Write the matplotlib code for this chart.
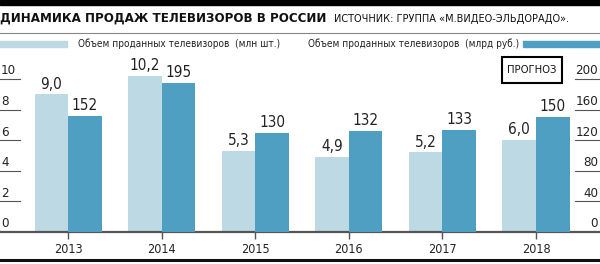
import matplotlib
matplotlib.use('Agg')
import matplotlib.pyplot as plt
import matplotlib.transforms as mtransforms
from matplotlib.patches import Rectangle
import numpy as np

# data
years = ['2013', '2014', '2015', '2016', '2017', '2018']
units_mln = [9.0, 10.2, 5.3, 4.9, 5.2, 6.0]
value_bln_rub = [152, 195, 130, 132, 133, 150]
left_ticks = [0, 2, 4, 6, 8, 10]
right_ticks = [0, 40, 80, 120, 160, 200]

title = 'ДИНАМИКА ПРОДАЖ ТЕЛЕВИЗОРОВ В РОССИИ'
source = 'ИСТОЧНИК: ГРУППА «М.ВИДЕО-ЭЛЬДОРАДО».'
label_units = 'Объем проданных телевизоров  (млн шт.)'
label_value = 'Объем проданных телевизоров  (млрд руб.)'

LIGHT = '#bcd9e4'
DARK = '#4f9fc3'
TXT = '#222222'
plt.rcParams['font.family'] = ['DejaVu Sans']
plt.rcParams['font.stretch'] = 'condensed'

W, H = 600, 264
fig = plt.figure(figsize=(6, 2.64), dpi=100)

def fy(px):
    # pixel row from top -> figure fraction
    return 1 - px / H

# axes: baseline at y=232px, 10 units at y=79px
unit_px = (232 - 79) / 10
ymax = 11
ax = fig.add_axes([0, fy(232), 1, (ymax * unit_px) / H])
ax2 = ax.twinx()

pos = np.arange(len(years))
step_px = 93.6
ax.set_xlim(-68 / step_px, (W - 68) / step_px)
ax.set_ylim(0, ymax)
ax2.set_ylim(0, ymax * 20)
bw = 33.5 / step_px

ax.bar(pos - bw / 2, units_mln, width=bw, color=LIGHT, zorder=2)
ax2.bar(pos + bw / 2, value_bln_rub, width=bw, color=DARK, zorder=2)

# value labels
for p, v in zip(pos, units_mln):
    ax.annotate(f'{v:.1f}'.replace('.', ','), (p - bw / 2, v), xytext=(0, 2),
                textcoords='offset points', ha='center', va='bottom',
                fontsize=11, color=TXT)
for p, v in zip(pos, value_bln_rub):
    ax2.annotate(str(v), (p + bw / 2, v), xytext=(0, 2),
                 textcoords='offset points', ha='center', va='bottom',
                 fontsize=11, color=TXT)

for a in (ax, ax2):
    for s in a.spines.values():
        s.set_visible(False)
    a.set_yticks([])
    a.patch.set_visible(False)

ax.spines['bottom'].set_visible(True)
ax.spines['bottom'].set_color('#555555')
ax.spines['bottom'].set_linewidth(1.6)
ax.set_xticks(pos)
ax.set_xticklabels(years, fontsize=9, color=TXT)
ax.tick_params(axis='x', length=5, width=1, color='#555555', pad=3)

# tick labels on both sides, underlined
tl = mtransforms.blended_transform_factory(fig.transFigure, ax.transData)
for v in left_ticks:
    ax.text(1 / W, v + 0.1, str(v), transform=tl, ha='left', va='bottom',
            fontsize=9.5, color=TXT)
    if v > 0:
        ax.plot([0, 20 / W], [v, v], transform=tl, color='#555555', lw=0.8,
                clip_on=False)
tr = mtransforms.blended_transform_factory(fig.transFigure, ax2.transData)
for v in right_ticks:
    ax2.text(1 - 2 / W, v + 2, str(v), transform=tr, ha='right', va='bottom',
             fontsize=9.5, color=TXT)
    if v > 0:
        ax2.plot([575 / W, 1], [v, v], transform=tr, color='#555555', lw=0.8,
                 clip_on=False)

# header
fig.patches.append(Rectangle((0, fy(5)), 1, 5 / H, transform=fig.transFigure,
                             color='black'))
fig.text(0, fy(18), title, fontsize=9.5, fontweight='bold', va='center',
         ha='left', color='#111111')
fig.text(334 / W, fy(18.5), source, fontsize=7.8, va='center',
         ha='left', color='#111111')
fig.lines.append(plt.Line2D([0, 1], [fy(33), fy(33)], transform=fig.transFigure,
                            color='#888888', lw=0.8))

# legend
fig.patches.append(Rectangle((0, fy(47)), 67 / W, 6 / H, transform=fig.transFigure,
                             color=LIGHT))
fig.text(78 / W, fy(44), label_units, fontsize=7.2, va='center', ha='left',
         color=TXT)
fig.patches.append(Rectangle((523 / W, fy(47)), 77 / W, 6 / H,
                             transform=fig.transFigure, color=DARK))
fig.text(519 / W, fy(44), label_value, fontsize=7.2, va='center', ha='right',
         color=TXT)

# forecast box
fig.patches.append(Rectangle((502 / W, fy(83)), 60 / W, 26 / H,
                             transform=fig.transFigure, fill=False,
                             edgecolor='black', lw=1.5))
fig.text(532 / W, fy(70), 'ПРОГНОЗ', fontsize=8, ha='center', va='center',
         color='#111111')

# bottom rule
fig.lines.append(plt.Line2D([0, 1], [fy(260), fy(260)], transform=fig.transFigure,
                            color='#111111', lw=2.2))

fig.savefig('out.png', dpi=100)
